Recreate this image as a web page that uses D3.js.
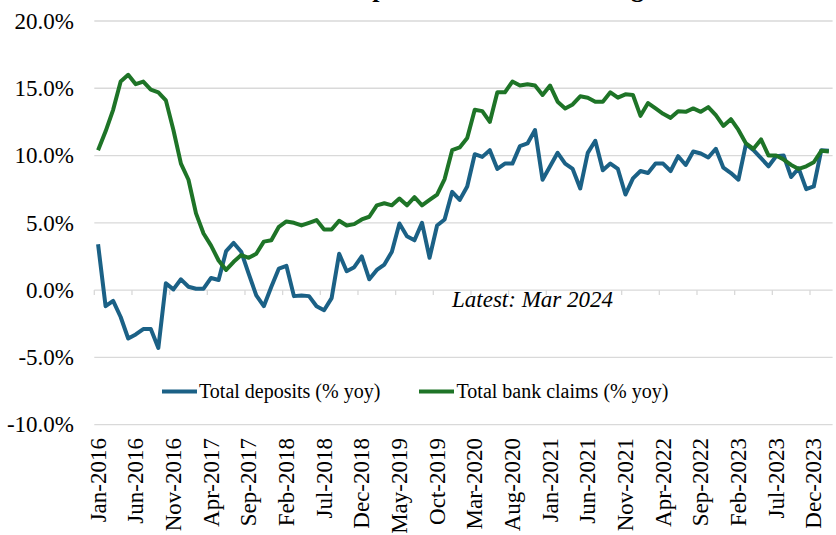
<!DOCTYPE html>
<html>
<head>
<meta charset="utf-8">
<script src="https://cdn.jsdelivr.net/npm/d3@7"></script>
<style>
  html, body { margin: 0; padding: 0; background: #fff; }
  svg { display: block; font-family: "Liberation Serif", "Times New Roman", serif; }
</style>
</head>
<body>
<svg id="chart" width="836" height="535"></svg>
<script>
// ---------- data ----------
const titleText = "Deposits and bank claims growth";
const startMonth = new Date(Date.UTC(2016, 0, 1));
const endMonth = new Date(Date.UTC(2024, 2, 1)); // exclusive -> last = Feb-2024
const tickLabels = ["Jan-2016","Jun-2016","Nov-2016","Apr-2017","Sep-2017","Feb-2018","Jul-2018","Dec-2018",
  "May-2019","Oct-2019","Mar-2020","Aug-2020","Jan-2021","Jun-2021","Nov-2021","Apr-2022","Sep-2022",
  "Feb-2023","Jul-2023","Dec-2023"];
const yTicks = [-10, -5, 0, 5, 10, 15, 20];

const deposits = [3.4,-1.2,-0.8,-2.0,-3.6,-3.3,-2.9,-2.9,-4.3,0.5,0.05,0.8,0.25,0.1,0.1,0.9,0.75,2.9,3.5,2.85,
  1.2,-0.4,-1.2,0.25,1.6,1.8,-0.45,-0.4,-0.45,-1.2,-1.5,-0.6,2.7,1.4,1.7,2.5,0.8,1.5,1.9,2.85,
  4.95,4.0,3.7,5.0,2.4,4.8,5.25,7.3,6.7,7.7,10.1,9.9,10.4,9.0,9.4,9.4,10.7,10.9,11.9,8.2,
  9.2,10.2,9.4,9.0,7.55,10.2,11.1,8.9,9.4,9.0,7.1,8.3,8.85,8.7,9.4,9.4,8.85,9.95,9.3,10.3,
  10.15,9.85,10.5,9.1,8.7,8.2,10.85,10.4,9.8,9.2,9.95,10.0,8.4,9.05,7.5,7.7,10.4,10.35];
const claims = [10.4,11.8,13.4,15.5,16.0,15.3,15.5,14.9,14.7,14.1,11.9,9.4,8.2,5.7,4.2,3.3,2.2,1.5,2.1,2.6,
  2.4,2.7,3.6,3.7,4.7,5.1,5.0,4.8,5.0,5.2,4.5,4.5,5.15,4.8,4.9,5.25,5.45,6.3,6.45,6.3,
  6.8,6.3,6.9,6.3,6.7,7.1,8.25,10.4,10.6,11.3,13.4,13.3,12.5,14.7,14.7,15.5,15.2,15.3,15.2,14.5,
  15.2,14.0,13.5,13.8,14.4,14.3,14.0,14.0,14.7,14.3,14.55,14.5,12.95,13.9,13.5,13.1,12.8,13.3,13.25,13.5,
  13.25,13.6,13.0,12.2,12.7,11.9,10.9,10.5,11.2,10.0,10.0,9.7,9.3,9.0,9.2,9.5,10.35,10.3];
const seriesNames = ["Total deposits (% yoy)", "Total bank claims (% yoy)"];
const seriesColors = ["#1b6186", "#1e7427"];

// ---------- layout ----------
const fmtMonth = d3.utcFormat("%b-%Y");
const categories = d3.utcMonths(startMonth, endMonth).map(fmtMonth);

const plot = { left: 94.3, right: 832.6, top: 21, bottom: 424.6 };
const svg = d3.select("#chart");

const x = d3.scaleBand().domain(categories).range([plot.left, plot.right]).padding(0);
const y = d3.scaleLinear().domain([-10, 20]).range([plot.bottom, plot.top]);
const cx = c => x(c) + x.bandwidth() / 2;

// title (cut off at top in reference)
svg.append("text")
  .attr("x", 342).attr("y", -3)
  .attr("font-size", 26).attr("font-weight", "bold")
  .attr("fill", "#000")
  .text(titleText);

// gridlines
svg.append("g").selectAll("line").data(yTicks.filter(v => v !== 0)).join("line")
  .attr("x1", plot.left).attr("x2", plot.right)
  .attr("y1", d => y(d)).attr("y2", d => y(d))
  .attr("stroke", "#d9d9d9").attr("stroke-width", 1.3);

// y axis labels
const yAxis = d3.axisLeft(y).tickValues(yTicks).tickSize(0).tickPadding(0)
  .tickFormat(d => d.toFixed(1) + "%");
const gy = svg.append("g").attr("transform", `translate(${74},0)`).call(yAxis);
gy.select(".domain").remove();
gy.selectAll("text").attr("font-size", 23).attr("fill", "#000")
  .attr("font-family", "Liberation Serif, Times New Roman, serif");

// zero axis line with ticks at category boundaries
svg.append("line")
  .attr("x1", plot.left).attr("x2", plot.right)
  .attr("y1", y(0)).attr("y2", y(0))
  .attr("stroke", "#d9d9d9").attr("stroke-width", 1.3);
const tickCats = categories.filter((c, i) => i % 5 === 0);
svg.append("g").selectAll("line").data(tickCats).join("line")
  .attr("x1", d => x(d)).attr("x2", d => x(d))
  .attr("y1", y(0)).attr("y2", y(0) + 5)
  .attr("stroke", "#d9d9d9").attr("stroke-width", 1.3);

// x labels (rotated)
const xAxis = d3.axisBottom(x).tickValues(tickLabels).tickSize(0).tickPadding(0);
const gx = svg.append("g").attr("transform", `translate(0,${438})`).call(xAxis);
gx.select(".domain").remove();
gx.selectAll("text")
  .attr("font-size", 23).attr("fill", "#000")
  .attr("font-family", "Liberation Serif, Times New Roman, serif")
  .attr("text-anchor", "end")
  .attr("transform", "rotate(-90)")
  .attr("x", 0).attr("y", 0).attr("dy", "0.33em");

// lines
const line = d3.line().x((d, i) => cx(categories[i])).y(d => y(d));
[deposits, claims].forEach((s, k) => {
  svg.append("path").datum(s)
    .attr("d", line)
    .attr("fill", "none")
    .attr("stroke", seriesColors[k])
    .attr("stroke-width", 4)
    .attr("stroke-linejoin", "round")
    .attr("stroke-linecap", "butt");
});

// annotation
svg.append("text")
  .attr("x", 452).attr("y", 307)
  .attr("font-size", 23).attr("font-style", "italic").attr("fill", "#000")
  .text("Latest: Mar 2024");

// legend
const legendItems = [{ x: 162, tx: 199 }, { x: 419, tx: 456.5 }];
legendItems.forEach((it, k) => {
  svg.append("line")
    .attr("x1", it.x).attr("x2", it.x + 35)
    .attr("y1", 391.5).attr("y2", 391.5)
    .attr("stroke", seriesColors[k]).attr("stroke-width", 4);
  svg.append("text")
    .attr("x", it.tx).attr("y", 398)
    .attr("font-size", 20).attr("fill", "#000")
    .text(seriesNames[k]);
});
</script>
</body>
</html>
